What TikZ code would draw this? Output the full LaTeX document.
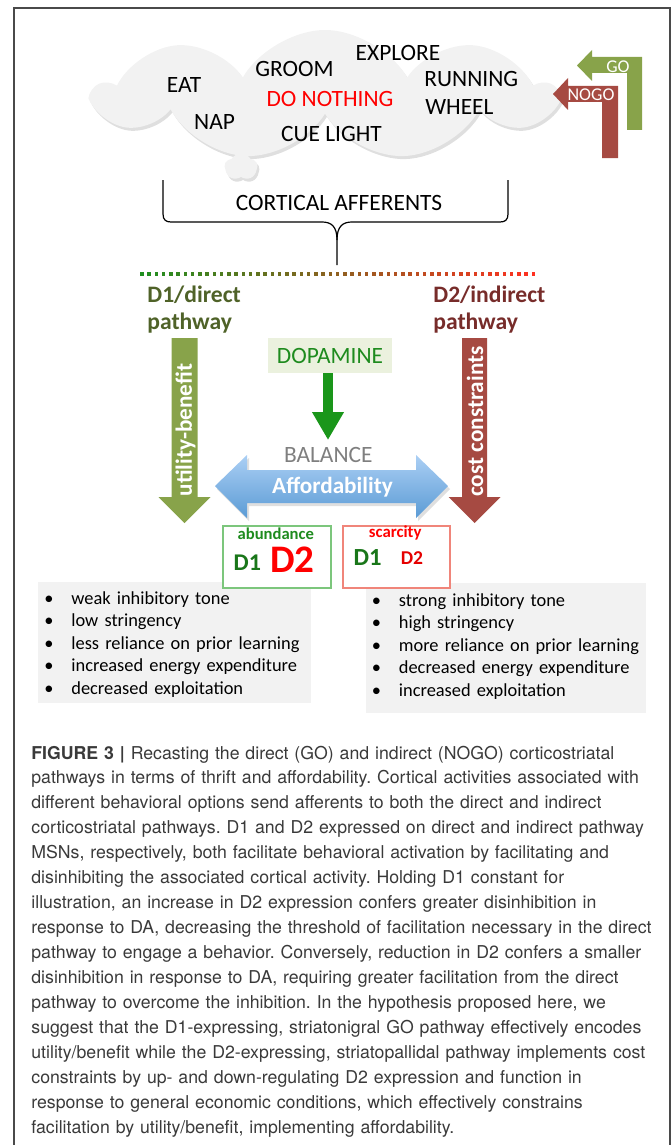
\documentclass[tikz,border=0pt]{standalone}
\usepackage{fontspec}
\setmainfont{Carlito}
\newfontfamily\capfont{TeX Gyre Heros}
\usetikzlibrary{positioning}
\usetikzlibrary{shapes.symbols,shadows,arrows.meta}
\frenchspacing

\definecolor{olivego}{HTML}{88A34A}
\definecolor{rednogo}{HTML}{A64A42}
\definecolor{directtxt}{HTML}{4F6228}
\definecolor{indirecttxt}{HTML}{772C2A}
\definecolor{dopagreen}{HTML}{1A961A}
\definecolor{dopafill}{HTML}{EBF1DE}
\definecolor{cloudgray}{HTML}{F2F2F2}
\definecolor{listgray}{HTML}{F2F2F2}
\definecolor{balgray}{HTML}{7F7F7F}
\definecolor{affordtop}{HTML}{ABCFF4}
\definecolor{affordbot}{HTML}{5B9BD5}
\definecolor{abungreen}{HTML}{1E8B1E}
\definecolor{abunborder}{HTML}{7CC67C}
\definecolor{scarborder}{HTML}{F0857A}
\definecolor{brightred}{HTML}{FF0000}
\definecolor{dotgreen}{HTML}{1F8F1F}
\definecolor{dotred}{HTML}{FF3020}
\definecolor{framegray}{HTML}{4A4A4A}
\definecolor{captext}{HTML}{3A3A3A}

\newcommand{\lstbul}{\makebox[13.5pt][l]{\textbullet}}

\tikzset{%
  word/.style = {font=\fontsize{11.7}{14}\selectfont, inner sep=0pt, anchor=base},
  thought/.style = {cloud, cloud puffs=9, cloud puff arc=120, cloud ignores aspect,
        fill=cloudgray, inner sep=0pt,
        drop shadow={shadow xshift=1pt, shadow yshift=-1.5pt, opacity=0.25}},
  pathlbl/.style = {font=\bfseries\fontsize{11.8}{13.5}\selectfont, anchor=base west,
        text width=70pt, align=left, inner sep=0pt},
  arrowlbl/.style = {font=\bfseries\fontsize{11.6}{14}\selectfont, text=white,
        rotate=90, inner sep=0pt},
  gonogo/.style = {font=\fontsize{9}{11}\selectfont, text=white, inner sep=0pt},
  dopa/.style = {dopagreen, line width=5pt, -{Triangle[width=15pt,length=14pt]}},
  afford/.style = {top color=affordtop, bottom color=affordbot,
        drop shadow={shadow xshift=1pt, shadow yshift=-1.5pt, opacity=0.25}},
  dbox/.style = {rectangle, line width=0.6pt, fill=white, minimum width=54pt,
        minimum height=31pt, inner sep=0pt},
  listbox/.style = {rectangle, fill=listgray, inner sep=0pt},
  bullets/.style = {font=\fontsize{9.2}{11.25}\selectfont, anchor=base west,
        text width=150pt, align=left, inner sep=0pt}
}

\begin{document}
\begin{tikzpicture}[x=0.5pt,y=-0.5pt]
\useasboundingbox (0,0) rectangle (671,1145);
\draw[framegray, line width=0.8pt] (14,1145) -- (14,8) -- (670,8) -- (670,1145);

% thought cloud with the options
\node[thought, minimum width=229.5pt, minimum height=65pt] (cloud) at (325,95) {};
\node[thought, cloud puffs=5, minimum width=16.5pt, minimum height=13.5pt] (bubble) at (241,167) {};
\node[word] (eat) at (184,92.5) {EAT};
\node[word] (groom) at (294.5,76.5) {GROOM};
\node[word] (explore) at (398,60.5) {EXPLORE};
\node[word, anchor=base west] (running) at (424,87) {RUNNING};
\node[word, anchor=base west] (wheel) at (425,115) {WHEEL};
\node[word, text=brightred] (donothing) at (330,107) {DO NOTHING};
\node[word] (nap) at (214.5,130) {NAP};
\node[word] (cuelight) at (331.5,141.5) {CUE LIGHT};

% GO / NOGO bent arrows
\fill[olivego] (577,65.5) -- (592,50) -- (592,57) -- (642,57) -- (642,130) -- (627,130)
  -- (627,73) -- (592,73) -- (592,81) -- cycle;
\fill[rednogo] (553,94) -- (568,78) -- (568,86) -- (618,86) -- (618,158) -- (602,158)
  -- (602,102) -- (568,102) -- (568,110) -- cycle;
\node[gonogo] (go) at (618,66.5) {GO};
\node[gonogo] (nogo) at (591,95) {NOGO};

% brace
\draw[line width=0.6pt] (163,180) -- (163,214) .. controls (163,220) and (166,222) .. (171,222)
  -- (322,222) .. controls (331,222) and (337,226) .. (337,240) -- (337,265);
\draw[line width=0.6pt] (508,180) -- (508,214) .. controls (508,220) and (505,222) .. (500,222)
  -- (352,222) .. controls (343,222) and (337,226) .. (337,240);
\node[word] (afferents) at (339,210) {CORTICAL AFFERENTS};

% dotted line, green to red
\foreach \i in {0,...,54}{
  \pgfmathsetmacro\mix{100-\i*100/54}
  \fill[dotgreen!\mix!dotred] ({140+\i*7.25},272.2) rectangle ++(3.6,3.6);
}

\node[pathlbl, text=directtxt] (direct) at (147,302) {D1/direct\\pathway};
\node[pathlbl, text=indirecttxt] (indirect) at (433,302) {D2/indirect\\pathway};

% pathway arrows
\fill[olivego] (171.5,338) -- (197.5,338) -- (197.5,497) -- (210.5,497) -- (184.5,523)
  -- (158.5,497) -- (171.5,497) -- cycle;
\fill[rednogo] (462,338) -- (487,338) -- (487,497) -- (500.5,497) -- (474.5,523)
  -- (448.5,497) -- (462,497) -- cycle;
\node[arrowlbl] (utility) at (185.5,430) {utility-benefit};
\node[arrowlbl] (cost) at (475,421.5) {cost constraints};

% dopamine and balance
\node[fill=dopafill, minimum width=62pt, minimum height=17.5pt, inner sep=0pt,
  text=abungreen, font=\fontsize{11.7}{14}\selectfont] (dopamine) at (330,355.5) {DOPAMINE};
\coordinate (dtip) at (328,440);
\draw[dopa] (dopamine.south -| dtip) -- (dtip);
\node[word, text=balgray] (balance) at (328.3,462.5) {BALANCE};
\path[afford] (215,486) -- (247,455) -- (247,470) -- (416,470) -- (416,455) -- (448,486)
  -- (416,518) -- (416,503) -- (247,503) -- (247,518) -- cycle;
\node[word, font=\bfseries\fontsize{11.6}{14}\selectfont, text=white] (affordlbl) at (332.5,493) {Affordability};

% lists
\node[listbox, minimum width=136.5pt, minimum height=60.5pt] (leftlist) at (174.5,642.5) {};
\node[listbox, minimum width=140pt, minimum height=65pt] (rightlist) at (506,648) {};
\node[bullets] (leftitems) at (44,604) {\lstbul weak inhibitory tone\\
  \lstbul low stringency\\ \lstbul less reliance on prior learning\\
  \lstbul increased energy expenditure\\ \lstbul decreased exploitation};
\node[bullets] (rightitems) at (371.5,606) {\lstbul strong inhibitory tone\\
  \lstbul high stringency\\ \lstbul more reliance on prior learning\\
  \lstbul decreased energy expenditure\\ \lstbul increased exploitation};

% abundance / scarcity
\node[dbox, draw=abunborder] (abundbox) at (277,557) {};
\node[dbox, draw=scarborder, minimum width=53.5pt] (scarbox) at (396.5,557) {};
\node[word, font=\bfseries\fontsize{8.3}{10}\selectfont, text=abungreen] (abund) at (275.8,539) {abundance};
\node[word, font=\bfseries\fontsize{12}{14}\selectfont, text=abungreen!85!black] (abundone) at (247.3,570) {D1};
\node[word, font=\bfseries\fontsize{19.5}{22}\selectfont, text=brightred] (abundtwo) at (292.5,572) {D2};
\node[word, font=\bfseries\fontsize{8.4}{10}\selectfont, text=brightred] (scar) at (395.2,537.5) {scarcity};
\node[word, font=\bfseries\fontsize{12.3}{14}\selectfont, text=abungreen!85!black] (scarone) at (367.5,565.3) {D1};
\node[word, font=\bfseries\fontsize{9.8}{12}\selectfont, text=brightred!90!black] (scartwo) at (412,564) {D2};

% caption
\node[anchor=base west, text width=330pt, align=left, inner sep=0pt, text=captext,
  font=\capfont\fontsize{8.85}{12.47}\selectfont] (caption) at (31,759) {%
\textbf{FIGURE 3 |} Recasting the direct (GO) and indirect (NOGO) corticostriatal\\
pathways in terms of thrift and affordability. Cortical activities associated with\\
different behavioral options send afferents to both the direct and indirect\\
corticostriatal pathways. D1 and D2 expressed on direct and indirect pathway\\
MSNs, respectively, both facilitate behavioral activation by facilitating and\\
disinhibiting the associated cortical activity. Holding D1 constant for\\
illustration, an increase in D2 expression confers greater disinhibition in\\
response to DA, decreasing the threshold of facilitation necessary in the direct\\
pathway to engage a behavior. Conversely, reduction in D2 confers a smaller\\
disinhibition in response to DA, requiring greater facilitation from the direct\\
pathway to overcome the inhibition. In the hypothesis proposed here, we\\
suggest that the D1-expressing, striatonigral GO pathway effectively encodes\\
utility/benefit while the D2-expressing, striatopallidal pathway implements cost\\
constraints by up- and down-regulating D2 expression and function in\\
response to general economic conditions, which effectively constrains\\
facilitation by utility/benefit, implementing affordability.};
\end{tikzpicture}
\end{document}
